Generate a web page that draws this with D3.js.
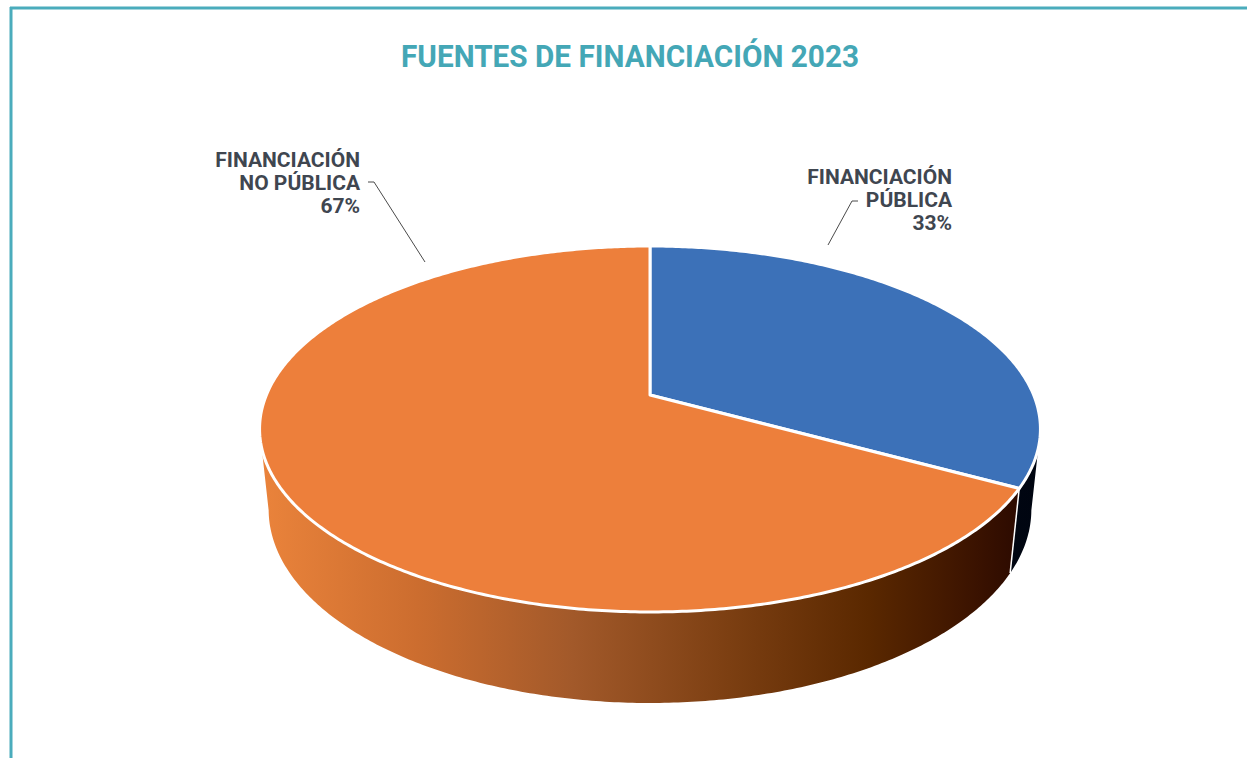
<!DOCTYPE html>
<html>
<head>
<meta charset="utf-8">
<script src="https://cdn.jsdelivr.net/npm/d3@7"></script>
<style>
  html, body { margin: 0; padding: 0; background: #fff; }
  svg { display: block; }
</style>
</head>
<body>
<svg width="1247" height="758"></svg>
<script>
// data
var categories = ["FINANCIACIÓN PÚBLICA", "FINANCIACIÓN NO PÚBLICA"]
var values = [33, 67]
var labelLines = [["FINANCIACIÓN", "PÚBLICA"], ["FINANCIACIÓN", "NO PÚBLICA"]]
var topColors = ["#3c71b8", "#ed7f3b"]
var title = "FUENTES DE FINANCIACIÓN 2023"

var svg = d3.select("svg")
var W = 1247, H = 758

// frame lines (top + left), teal
svg.append("line").attr("x1", 10).attr("y1", 8).attr("x2", W).attr("y2", 8)
    .attr("stroke", "#4aacbc").attr("stroke-width", 3)
svg.append("line").attr("x1", 11).attr("y1", 7).attr("x2", 11).attr("y2", H)
    .attr("stroke", "#4aacbc").attr("stroke-width", 3)

svg.append("text")
    .attr("x", 630).attr("y", 67)
    .attr("text-anchor", "middle")
    .attr("textLength", 458).attr("lengthAdjust", "spacingAndGlyphs")
    .style("font-family", "Roboto, 'Open Sans', sans-serif")
    .style("font-weight", 700).style("font-size", "32px")
    .attr("fill", "#44a7b6")
    .text(title)

// perspective camera for the 3d disc
var cx = 650, cy = 395
var sinP = 0.4605, cosP = Math.sqrt(1 - sinP*sinP)
var dist = 4.778, F = 1833, depth = 0.2384

function proj(theta, Y) {
    var X = Math.sin(theta), Z = Math.cos(theta)
    var den = dist + Z*cosP - Y*sinP
    return [cx + F*X/den, cy - F*(Y*cosP + Z*sinP)/den]
}
function arcPts(a0, a1, Y) {
    var n = Math.max(2, Math.ceil(Math.abs(a1 - a0) / 0.01))
    return d3.range(n + 1).map(function(i) { return proj(a0 + (a1 - a0)*i/n, Y) })
}

var pie = d3.pie().sort(null).value(function(d) { return d })
var arcs = pie(values)
var total = d3.sum(values)

// visible part of the side wall: between the widest points of the top ellipse
var tR = Math.acos(-cosP/dist), tL = 2*Math.PI - tR
var line = d3.line()

var defs = svg.append("defs")
var gx = d3.scaleLinear().domain([0, 1]).range([262, 1040])
var sideGrads = [
    [["0", "#0a1a3c"], ["1", "#000510"]],
    [["0", "#ea833b"], ["0.2", "#cc6d2f"], ["0.4", "#a2592a"], ["0.6", "#7c3f12"], ["0.78", "#5a2800"], ["0.92", "#3a1200"], ["1", "#250600"]]
]
sideGrads.forEach(function(stops, i) {
    var g = defs.append("linearGradient").attr("id", "side" + i)
        .attr("gradientUnits", "userSpaceOnUse")
        .attr("x1", gx(0)).attr("y1", 0).attr("x2", gx(1)).attr("y2", 0)
    stops.forEach(function(s) { g.append("stop").attr("offset", s[0]).attr("stop-color", s[1]) })
})

arcs.forEach(function(a, i) {
    var s = Math.max(a.startAngle, tR), e = Math.min(a.endAngle, tL)
    if (e <= s) return
    var pts = arcPts(s, e, 0).concat(arcPts(e, s, -depth))
    svg.append("path").attr("d", line(pts) + "Z").attr("fill", "url(#side" + i + ")")
})
// seam between the two walls
arcs.forEach(function(a) {
    if (a.startAngle > tR && a.startAngle < tL) {
        svg.append("path").attr("d", line([proj(a.startAngle, 0), proj(a.startAngle, -depth)]))
            .attr("stroke", "#fff").attr("stroke-width", 1.5)
    }
})

// top faces
arcs.forEach(function(a, i) {
    var pts = [[cx, cy]].concat(arcPts(a.startAngle, a.endAngle, 0))
    svg.append("path").attr("d", line(pts) + "Z")
        .attr("fill", topColors[i])
        .attr("stroke", "#fff").attr("stroke-width", 3)
        .attr("stroke-linejoin", "round")
})

// labels
var labelPos = [
    { x: 952, y: 184, lead: [[858, 201], [852, 201], [828, 245]] },
    { x: 360, y: 167, lead: [[368, 182], [374, 182], [425, 262]] }
]
arcs.forEach(function(a, i) {
    var p = labelPos[i]
    var lines = labelLines[i].concat([Math.round(a.data/total*100) + "%"])
    var t = svg.append("text")
        .attr("text-anchor", "end")
        .style("font-family", "Roboto, 'Open Sans', sans-serif")
        .style("font-weight", 700).style("font-size", "21px")
        .attr("fill", "#3f4650")
    lines.forEach(function(l, j) {
        t.append("tspan").attr("x", p.x).attr("y", p.y + j*23).text(l)
    })
    svg.append("path").attr("d", line(p.lead))
        .attr("fill", "none").attr("stroke", "#4a4a4a").attr("stroke-width", 1)
})
</script>
</body>
</html>
